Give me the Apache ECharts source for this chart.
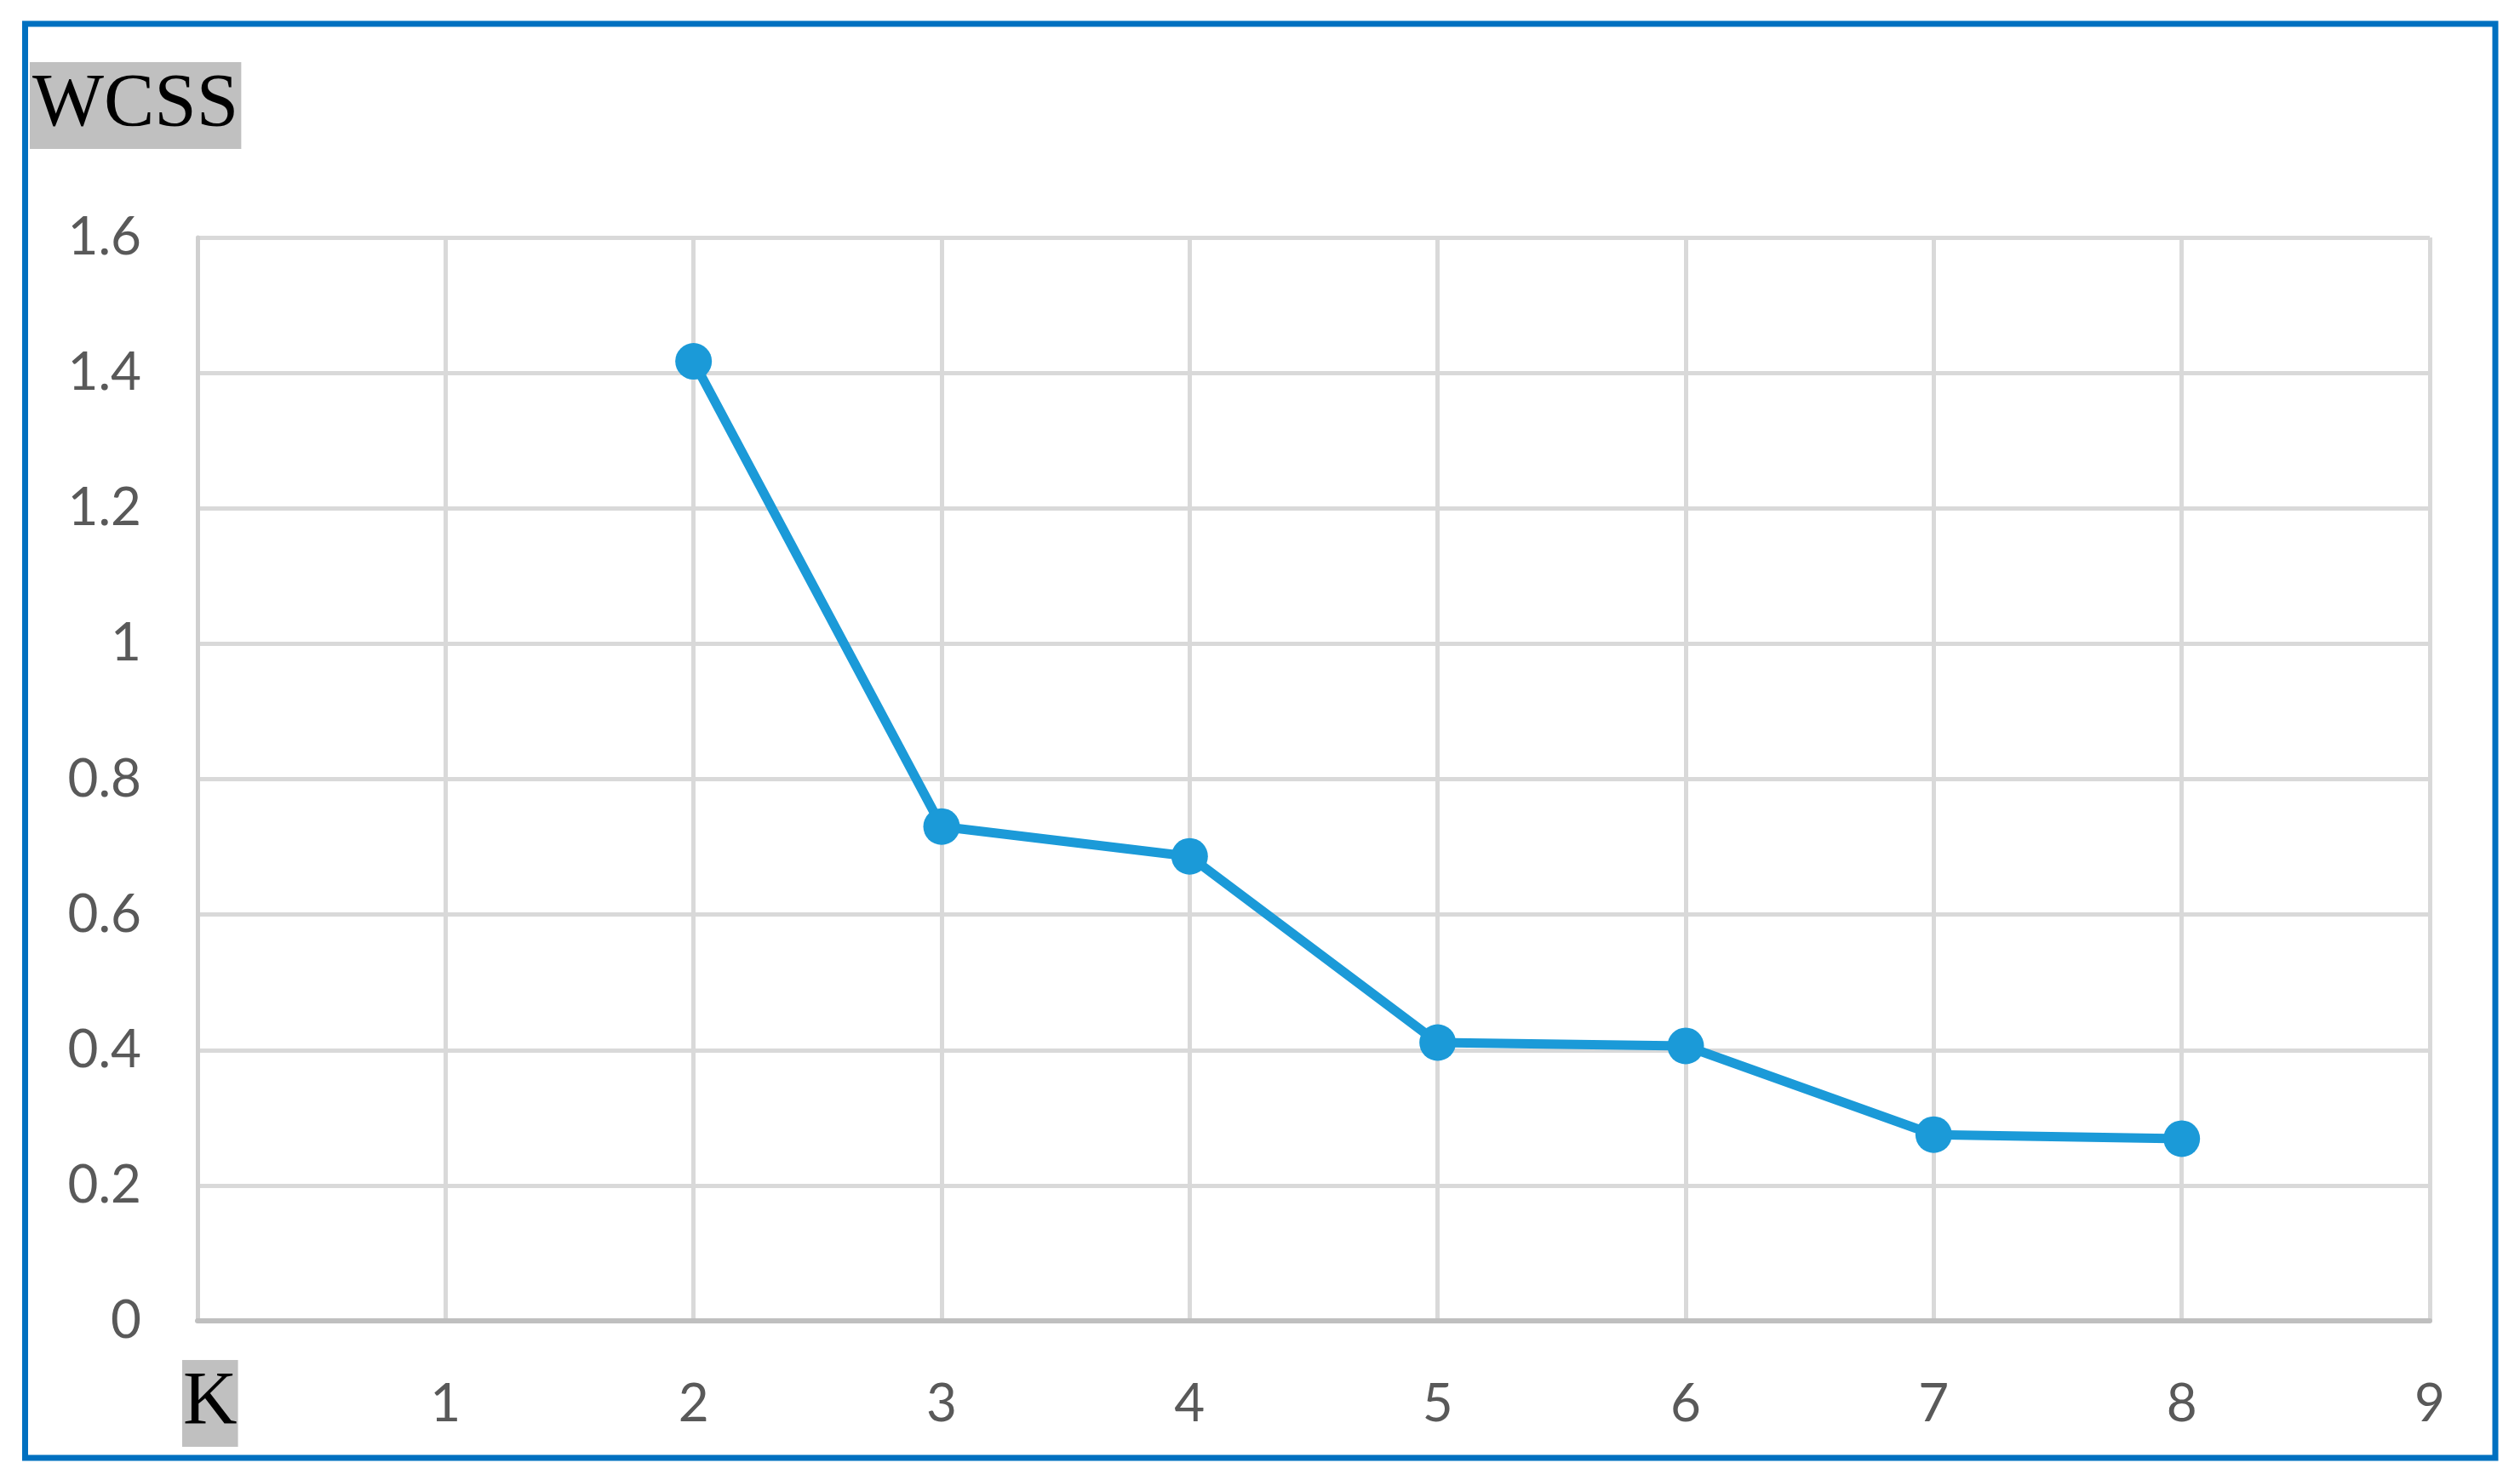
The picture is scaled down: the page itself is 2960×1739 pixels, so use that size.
<!DOCTYPE html>
<html>
<head>
<meta charset="utf-8">
<script src="https://cdn.jsdelivr.net/npm/echarts@6/dist/echarts.min.js"></script>
<style>
html,body{margin:0;padding:0;background:#fff;}
#c{width:2960px;height:1739px;}
</style>
</head>
<body>
<div id="c"></div>
<script>
const kValues = [2, 3, 4, 5, 6, 7, 8];
const wcssValues = [1.417, 0.730, 0.686, 0.411, 0.406, 0.275, 0.269];
const yAxisTitle = 'WCSS';
const xAxisTitle = 'K';

const chart = echarts.init(document.getElementById('c'), null, {renderer: 'canvas'});
const labelFont = 'Lato, "Open Sans", sans-serif';

chart.setOption({
  backgroundColor: '#ffffff',
  animation: false,
  grid: {left: 232, right: 106, top: 279, bottom: 187, containLabel: false},
  xAxis: {
    type: 'value', min: 0, max: 9, interval: 1,
    axisLine: {show: true, lineStyle: {color: '#BFBFBF', width: 6}},
    axisTick: {show: false},
    splitLine: {show: true, lineStyle: {color: '#D9D9D9', width: 5}},
    axisLabel: {
      margin: 67, fontSize: 62, color: '#595959', fontFamily: labelFont,
      formatter: v => (v === 0 ? '' : String(v))
    }
  },
  yAxis: {
    type: 'value', min: 0, max: 1.6, interval: 0.2,
    axisLine: {show: true, lineStyle: {color: '#D0D0D0', width: 5}},
    axisTick: {show: false},
    splitLine: {show: true, lineStyle: {color: '#D9D9D9', width: 5}},
    axisLabel: {
      margin: 66, fontSize: 62, color: '#595959', fontFamily: labelFont,
      formatter: v => String(Math.round(v * 10) / 10)
    }
  },
  series: [{
    type: 'line',
    data: kValues.map((k, i) => [k, wcssValues[i]]),
    symbol: 'circle', symbolSize: 43,
    lineStyle: {color: '#1B9AD8', width: 11},
    itemStyle: {color: '#1B9AD8'},
    z: 5
  }],
  graphic: [
    {
      type: 'rect', shape: {x: 29.5, y: 28, width: 2901.5, height: 1685},
      style: {fill: 'none', stroke: '#0070C0', lineWidth: 7}, z: 100
    },
    {
      type: 'text', left: 35, top: 73,
      style: {text: yAxisTitle, font: '89px "Liberation Serif", serif', fill: '#000',
        backgroundColor: '#C0C0C0', padding: [0, 3, 0, 3], lineHeight: 102}
    },
    {
      type: 'text', left: 214, top: 1598,
      style: {text: xAxisTitle, font: '88px "Liberation Serif", serif', fill: '#000',
        backgroundColor: '#C0C0C0', padding: [0, 1, 0, 1], lineHeight: 102}
    }
  ]
});
</script>
</body>
</html>
